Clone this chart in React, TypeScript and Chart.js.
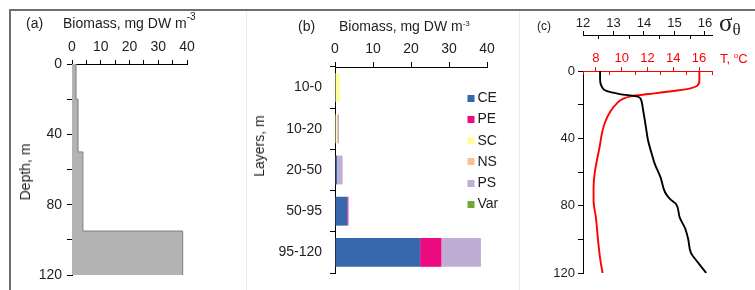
import React, { useEffect, useRef } from "react";
import { Chart, registerables } from "chart.js";

Chart.register(...registerables);

// ---------------- Panel (a): total biomass profile ----------------
const layerBreaksA = [0, 20, 50, 95, 120]; // depth boundaries, m
const totalBiomassA = [1.4, 2.1, 3.8, 38.5]; // mg DW m-3 in each layer

// ---------------- Panel (b): biomass by group and layer ----------------
const layerLabels = ["10-0", "10-20", "20-50", "50-95", "95-120"];
const groupNames = ["CE", "PE", "SC", "NS", "PS", "Var"];
const groupColors = ["#3767ad", "#ec0a80", "#ffff99", "#fac08f", "#bfadd5", "#6aa93a"];
const ceValues = [0, 0, 0.6, 3.25, 22.4];
const peValues = [0, 0, 0, 0.25, 5.6];
const scValues = [1.2, 0.55, 0.05, 0, 0];
const nsValues = [0.05, 0.05, 0, 0, 0];
const psValues = [0.05, 0.45, 1.35, 0.1, 10.4];
const varValues = [0, 0, 0, 0, 0];
const groupValues = [ceValues, peValues, scValues, nsValues, psValues, varValues];

// ---------------- Panel (c): sigma-theta and temperature profiles ----------------
const sigmaDepths = [0, 5, 9, 12, 13.7, 15.3, 18, 23, 33, 41, 49, 55, 63, 72, 76, 79, 87, 94, 100, 108, 114, 120];
const sigmaValues = [12.56, 12.56, 12.61, 12.78, 13.21, 13.81, 13.92, 13.97, 14.06, 14.13, 14.25, 14.35, 14.54, 14.69, 14.85, 15.05, 15.17, 15.36, 15.45, 15.54, 15.78, 16.04];
const tempDepths = [0, 6, 8.9, 10.3, 11.7, 13.7, 14.9, 16.8, 19.2, 24, 30, 37, 45, 53, 61, 69, 77, 87, 100, 112, 120];
const tempValues = [16.02, 16.02, 15.83, 15.32, 14.15, 12.09, 10.79, 10.02, 9.63, 9.12, 8.73, 8.47, 8.29, 8.08, 7.9, 7.82, 7.82, 8.0, 8.16, 8.34, 8.52];

const SANS = '"Liberation Sans", Arial, sans-serif';
const TEXT = "#1e1e1e";
const RED = "#ff0000";

const innerTicks = {
  id: "innerTicks",
  afterDraw(chart: any, _a: any, opts: any) {
    const specs = (opts && opts.scales) || {};
    const ctx = chart.ctx;
    Object.keys(specs).forEach((id) => {
      const scale = chart.scales[id];
      if (!scale) return;
      const { color, length } = specs[id];
      ctx.save();
      ctx.strokeStyle = color;
      ctx.lineWidth = 1;
      scale.ticks.forEach((t: any) => {
        if (t.label) return;
        const x = Math.round(scale.getPixelForValue(t.value)) + 0.5;
        ctx.beginPath();
        ctx.moveTo(x, scale.bottom);
        ctx.lineTo(x, scale.bottom + length);
        ctx.stroke();
      });
      ctx.restore();
    });
  },
};

const insideLegend = {
  id: "insideLegend",
  afterDraw(chart: any, _a: any, opts: any) {
    const { ctx, chartArea } = chart;
    const x0 = chartArea.right + opts.offsetRight;
    const y0 = chartArea.top + opts.offsetTop;
    ctx.save();
    ctx.font = `${opts.fontSize}px ${SANS}`;
    ctx.textBaseline = "middle";
    ctx.textAlign = "left";
    chart.data.datasets.forEach((ds: any, i: number) => {
      const cy = y0 + i * opts.rowHeight;
      ctx.fillStyle = ds.backgroundColor;
      ctx.fillRect(x0, Math.round(cy - opts.box / 2), opts.box, opts.box);
      ctx.fillStyle = TEXT;
      ctx.fillText(ds.label, x0 + opts.box + opts.gap, cy);
    });
    ctx.restore();
  },
};

function font(size: number) {
  return { family: SANS, size };
}

export default function App() {
  const refA = useRef<HTMLCanvasElement>(null);
  const refB = useRef<HTMLCanvasElement>(null);
  const refC = useRef<HTMLCanvasElement>(null);

  useEffect(() => {
    const profileA = layerBreaksA.map((d, i) => ({
      x: totalBiomassA[Math.min(i, totalBiomassA.length - 1)],
      y: d,
    }));

    const chartA = new Chart(refA.current as HTMLCanvasElement, {
      type: "line",
      data: {
        datasets: [
          {
            data: profileA,
            stepped: "after",
            fill: "origin",
            backgroundColor: "#b3b3b3",
            borderColor: "#7f7f7f",
            borderWidth: 1,
            pointRadius: 0,
          } as any,
        ],
      },
      options: {
        indexAxis: "y",
        animation: false,
        responsive: false,
        maintainAspectRatio: false,
        layout: { padding: { left: 12, top: 34, right: 568, bottom: 15 } },
        plugins: { legend: { display: false }, tooltip: { enabled: false } },
        scales: {
          x: {
            type: "linear",
            position: "top",
            min: 0,
            max: 40,
            ticks: {
              stepSize: 5,
              autoSkip: false,
              maxRotation: 0,
              padding: 4,
              color: TEXT,
              font: font(14),
              callback: (v: any) => (v % 10 === 0 ? String(v) : ""),
            },
            grid: { drawOnChartArea: false, tickLength: 4, color: "#000" },
            border: { color: "#000", width: 1 },
            afterFit: (s: any) => {
              s.height = 30;
            },
          },
          y: {
            type: "linear",
            reverse: true,
            min: 0,
            max: 120,
            ticks: {
              stepSize: 20,
              autoSkip: false,
              padding: 5,
              color: TEXT,
              font: font(14),
              callback: (v: any) => (v % 40 === 0 ? String(v) : ""),
            },
            grid: { drawOnChartArea: false, tickLength: 5, color: "#000" },
            border: { color: "#000", width: 1 },
            afterFit: (s: any) => {
              s.width = 60;
            },
          },
        } as any,
      },
    });

    const chartB = new Chart(refB.current as HTMLCanvasElement, {
      type: "bar",
      data: {
        labels: layerLabels,
        datasets: groupNames.map((name, i) => ({
          label: name,
          data: groupValues[i],
          backgroundColor: groupColors[i],
          borderWidth: 0,
          categoryPercentage: 1,
          barPercentage: 0.7,
        })),
      },
      options: {
        indexAxis: "y",
        animation: false,
        responsive: false,
        maintainAspectRatio: false,
        layout: { padding: { left: 265, top: 37, right: 268, bottom: 17 } },
        plugins: {
          legend: { display: false },
          tooltip: { enabled: false },
          insideLegend: { offsetRight: -19.5, offsetTop: 31.3, rowHeight: 21.2, box: 7, gap: 3, fontSize: 14 },
        } as any,
        scales: {
          x: {
            type: "linear",
            position: "top",
            stacked: true,
            min: 0,
            max: 40,
            ticks: { stepSize: 10, maxRotation: 0, padding: 4, color: TEXT, font: font(14) },
            grid: { drawOnChartArea: false, tickLength: 5, color: "#000" },
            border: { color: "#000", width: 1 },
            afterFit: (s: any) => {
              s.height = 30;
            },
          },
          y: {
            stacked: true,
            ticks: { padding: 8, color: TEXT, font: font(14) },
            grid: { drawOnChartArea: false, tickLength: 5, color: "#000", offset: true },
            border: { color: "#000", width: 1 },
            afterFit: (s: any) => {
              s.width = 70;
            },
          },
        } as any,
      },
      plugins: [insideLegend as any],
    });

    const sigmaPoints = sigmaDepths.map((d, i) => ({ x: sigmaValues[i], y: d }));
    const tempPoints = tempDepths.map((d, i) => ({ x: tempValues[i], y: d }));

    const chartC = new Chart(refC.current as HTMLCanvasElement, {
      type: "line",
      data: {
        datasets: [
          {
            data: sigmaPoints,
            xAxisID: "sigma",
            yAxisID: "y",
            borderColor: "#000",
            borderWidth: 1.9,
            pointRadius: 0,
            fill: false,
            cubicInterpolationMode: "monotone",
          } as any,
          {
            data: tempPoints,
            xAxisID: "temp",
            yAxisID: "y",
            borderColor: RED,
            borderWidth: 1.9,
            pointRadius: 0,
            fill: false,
            cubicInterpolationMode: "monotone",
          } as any,
        ],
      },
      options: {
        indexAxis: "y",
        animation: false,
        responsive: false,
        maintainAspectRatio: false,
        layout: { padding: { left: 533, top: 5, right: 43, bottom: 17 } },
        plugins: {
          legend: { display: false },
          tooltip: { enabled: false },
          innerTicks: {
            scales: {
              sigma: { color: "#000", length: 4 },
              temp: { color: RED, length: 4 },
            },
          },
        } as any,
        scales: {
          y: {
            type: "linear",
            position: "left",
            reverse: true,
            min: 0,
            max: 120,
            ticks: {
              stepSize: 20,
              autoSkip: false,
              padding: 3,
              color: TEXT,
              font: font(13),
              callback: (v: any) => (v % 40 === 0 ? String(v) : ""),
            },
            grid: { drawOnChartArea: false, tickLength: 5, color: "#000" },
            border: { color: "#000", width: 1 },
            afterFit: (s: any) => {
              s.width = 50;
            },
          },
          sigma: {
            type: "linear",
            axis: "x",
            position: "top",
            weight: 2,
            min: 12,
            max: 16.23,
            ticks: {
              stepSize: 0.5,
              includeBounds: false,
              autoSkip: false,
              maxRotation: 0,
              padding: 0,
              color: TEXT,
              font: font(13),
              callback: (v: any) => (Number.isInteger(v) ? String(v) : ""),
            },
            grid: {
              drawOnChartArea: false,
              tickLength: 4,
              tickColor: (c: any) => (c.tick && c.tick.label ? "#000" : "rgba(0,0,0,0)"),
            },
            border: { color: "#000", width: 1 },
            afterFit: (s: any) => {
              s.height = 30;
            },
          },
          temp: {
            type: "linear",
            axis: "x",
            position: "top",
            weight: 1,
            min: 7,
            max: 17,
            ticks: {
              stepSize: 1,
              autoSkip: false,
              maxRotation: 0,
              padding: 1,
              color: RED,
              font: font(13),
              callback: (v: any) => (v % 2 === 0 ? String(v) : ""),
            },
            grid: {
              drawOnChartArea: false,
              tickLength: 4,
              tickColor: (c: any) => (c.tick && c.tick.label ? RED : "rgba(0,0,0,0)"),
            },
            border: { color: RED, width: 1 },
            afterFit: (s: any) => {
              s.height = 36;
            },
          },
        } as any,
      },
      plugins: [innerTicks as any],
    });

    return () => {
      chartA.destroy();
      chartB.destroy();
      chartC.destroy();
    };
  }, []);

  const canvasStyle: React.CSSProperties = { position: "absolute", left: 0, top: 0 };
  const txt = (extra: React.CSSProperties): React.CSSProperties => ({
    position: "absolute",
    whiteSpace: "nowrap",
    fontFamily: SANS,
    color: TEXT,
    lineHeight: "normal",
    ...extra,
  });
  const rot = (cx: number, cy: number): React.CSSProperties =>
    txt({ left: cx, top: cy, fontSize: 14, transform: "translate(-50%, -50%) rotate(-90deg)" });

  return (
    <div style={{ position: "absolute", left: 0, top: 0, width: 755, height: 290, overflow: "hidden", background: "#fff" }}>
      {/* frame */}
      <div style={{ position: "absolute", left: 9, top: 9, width: 746, height: 2, background: "#6e6e6e" }} />
      <div style={{ position: "absolute", left: 9, top: 9, width: 2, height: 281, background: "#6e6e6e" }} />
      <div style={{ position: "absolute", left: 246, top: 11, width: 1, height: 279, background: "#ececec" }} />
      <div style={{ position: "absolute", left: 519, top: 11, width: 1, height: 279, background: "#ececec" }} />

      <canvas ref={refA} width={755} height={290} style={canvasStyle} />
      <canvas ref={refB} width={755} height={290} style={canvasStyle} />
      <canvas ref={refC} width={755} height={290} style={canvasStyle} />

      {/* panel (a) texts */}
      <div style={txt({ left: 26, top: 15, fontSize: 14 })}>(a)</div>
      <div style={txt({ left: 63, top: 15, fontSize: 14 })}>
        Biomass, mg DW m
        <span style={{ fontSize: 10, position: "relative", top: -8 }}>-3</span>
      </div>
      <div style={rot(25.4, 172)}>Depth, m</div>

      {/* panel (b) texts */}
      <div style={txt({ left: 298, top: 18, fontSize: 14 })}>(b)</div>
      <div style={txt({ left: 339, top: 18, fontSize: 14 })}>
        Biomass, mg DW m
        <span style={{ fontSize: 8, position: "relative", top: -5 }}>-3</span>
      </div>
      <div style={rot(258.5, 146)}>Layers, m</div>

      {/* panel (c) texts */}
      <div style={txt({ left: 537, top: 18.5, fontSize: 12 })}>(c)</div>
      <div style={txt({ left: 719, top: 9, fontSize: 25, fontFamily: '"Liberation Serif", "DejaVu Serif", serif' })}>
        σ<span style={{ fontSize: 17, position: "relative", top: 4 }}>θ</span>
      </div>
      <div style={txt({ left: 720, top: 51, fontSize: 13, color: RED })}>
        T, <span style={{ fontSize: 8, position: "relative", top: -5 }}>o</span>C
      </div>
    </div>
  );
}
